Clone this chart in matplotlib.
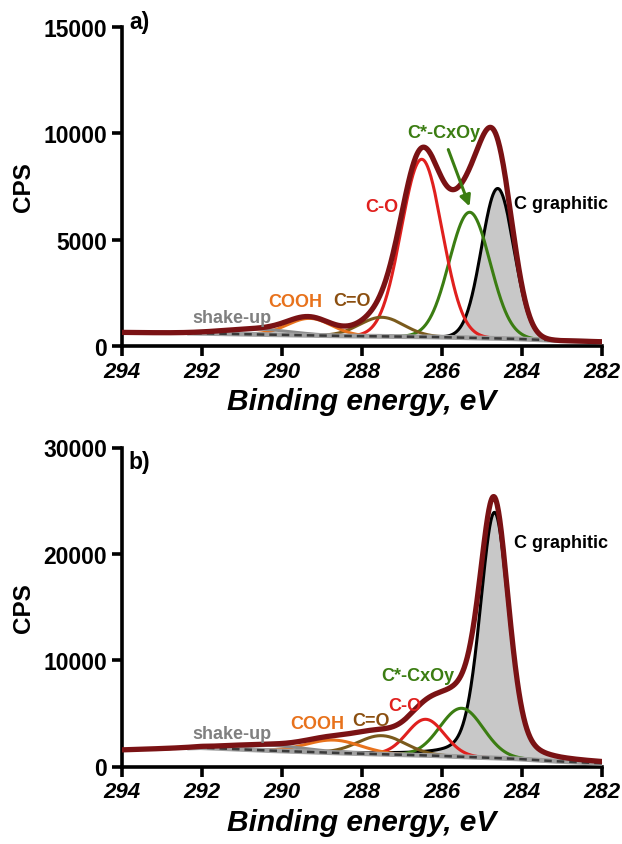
import numpy as np
import matplotlib.pyplot as plt

plt.rcParams['font.family'] = ['Liberation Sans', 'DejaVu Sans']
plt.rcParams['font.weight'] = 'bold'

# fitted components: C graphitic, C*-CxOy, C-O, C=O, COOH, shake-up
names = ['C graphitic', 'C*-CxOy', 'C-O', 'C=O', 'COOH', 'shake-up']
a_center = [284.6, 285.3, 286.5, 287.5, 289.3, 290.6]
a_height = [7050, 5900, 8350, 900, 800, 250]
a_fwhm = [0.95, 1.2, 1.2, 1.3, 1.3, 2.0]
a_eta = [0.0, 0.0, 0.0, 0.0, 0.0, 0.0]
b_center = [284.68, 285.5, 286.4, 287.5, 288.7, 290.3]
b_height = [23100, 4550, 3400, 1750, 1200, 500]
b_fwhm = [0.85, 1.27, 1.1, 1.4, 1.6, 2.2]
b_eta = [0.3, 0.0, 0.0, 0.0, 0.0, 0.0]

# background (Shirley) read at a few energies
bg_e = [282, 283, 284, 286, 288, 290, 292, 294]
a_bg = [200, 250, 330, 420, 460, 520, 600, 640]
b_bg = [300, 460, 700, 1000, 1200, 1450, 1780, 1550]

comp_colors = ['black', '#3b7d12', '#e0201e', '#7a5a1c', '#e8721c', '#8a8a8a']
text_colors = ['black', '#3b7d12', '#e0201e', '#8b4f10', '#e8721c', '#808080']
env_color = '#7a1214'


def peak(x, c, h, w, eta):
    g = np.exp(-4 * np.log(2) * ((x - c) / w) ** 2)
    l = 1 / (1 + 4 * ((x - c) / w) ** 2)
    return h * ((1 - eta) * g + eta * l)


def panel(ax, center, height, fwhm, eta, bgv, ymax, yticks, tag, tag_y, labels):
    x = np.linspace(282, 294, 1201)
    bg = np.interp(x, bg_e, bgv)
    total = bg.copy()
    for i in range(len(center)):
        p = peak(x, center[i], height[i], fwhm[i], eta[i])
        total += p
        if i == 0:
            ax.fill_between(x, bg, bg + p, color='#c8c8c8', lw=0, zorder=1)
        ax.plot(x, bg + p, color=comp_colors[i], lw=2.2, zorder=2)
    m = x <= 292.3
    ax.plot(x[m], bg[m], color='#a0a0a0', lw=3.5, zorder=3)
    ax.plot(x[m], bg[m], color='#3a3a3a', lw=1.8, dashes=(3, 2), zorder=3)
    ax.plot(x, total, color=env_color, lw=3.8, zorder=4)

    ax.set_xlim(294, 282)
    ax.set_ylim(0, ymax)
    ax.set_xticks([294, 292, 290, 288, 286, 284, 282])
    ax.set_yticks(yticks)
    for s in ['top', 'right']:
        ax.spines[s].set_visible(False)
    for s in ['left', 'bottom']:
        ax.spines[s].set_linewidth(2.6)
    ax.tick_params(direction='out', length=7, width=2.6)
    ax.tick_params(axis='x', labelsize=16)
    ax.tick_params(axis='y', labelsize=16.5)
    for t in ax.get_xticklabels():
        t.set_fontstyle('italic')
        t.set_fontweight('bold')
    for t in ax.get_yticklabels():
        t.set_fontweight('bold')
    ax.set_xlabel('Binding energy, eV', fontsize=21.5, fontweight='bold',
                  fontstyle='italic', labelpad=4)
    ax.set_ylabel('CPS', fontsize=17.5, fontweight='bold')
    ax.yaxis.set_label_coords(-0.18, 0.5)
    ax.text(293.55, tag_y, tag, fontsize=16.5, fontweight='bold', ha='center',
            va='center', clip_on=False)
    for i, (lx, ly, ha) in enumerate(labels):
        ax.text(lx, ly, names[i], color=text_colors[i], fontsize=13,
                fontweight='bold', ha=ha, va='center', zorder=5)


fig = plt.figure(figsize=(6.22, 8.45), dpi=100)
ax_a = fig.add_axes([121.7 / 622, 498 / 845, 480 / 622, 319 / 845])
ax_b = fig.add_axes([121.7 / 622, 77.5 / 845, 480 / 622, 319 / 845])

panel(ax_a, a_center, a_height, a_fwhm, a_eta, a_bg, 15000,
      [0, 5000, 10000, 15000], 'a)', 15250,
      [(284.2, 6680, 'left'), (285.94, 10060, 'center'), (287.5, 6580, 'center'),
       (288.23, 2120, 'center'), (289.67, 2070, 'center'), (291.24, 1360, 'center')])
ax_a.annotate('', xy=(285.28, 6440), xytext=(285.86, 9360),
              arrowprops=dict(arrowstyle='-|>', color='#3b7d12', lw=2.2,
                              mutation_scale=16), zorder=5)

panel(ax_b, b_center, b_height, b_fwhm, b_eta, b_bg, 30000,
      [0, 10000, 20000, 30000], 'b)', 28700,
      [(284.2, 21110, 'left'), (286.59, 8600, 'center'), (286.92, 5780, 'center'),
       (287.78, 4370, 'center'), (289.12, 4000, 'center'), (291.24, 3150, 'center')])

fig.savefig('out.png', dpi=100)
